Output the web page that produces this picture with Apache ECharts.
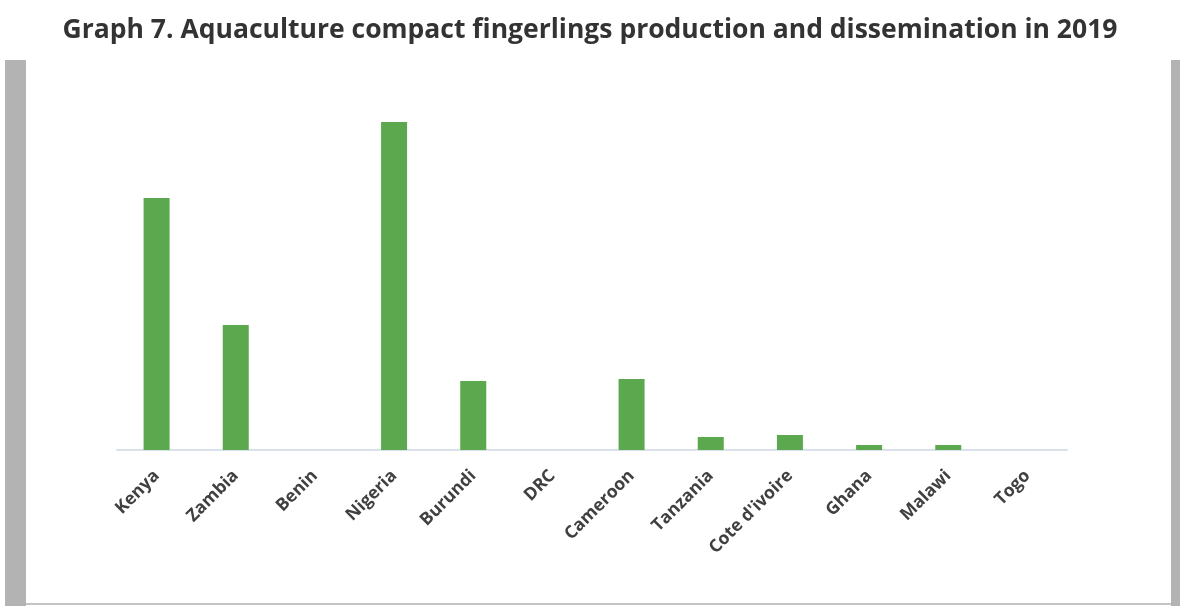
<!DOCTYPE html>
<html>
<head>
<meta charset="utf-8">
<script src="https://cdn.jsdelivr.net/npm/echarts@6/dist/echarts.min.js"></script>
<style>
  html, body { margin: 0; padding: 0; background: #fff; }
  #chart { width: 1180px; height: 606px; }
</style>
</head>
<body>
<div id="chart"></div>
<script>
// 数据
var countries = ['Kenya', 'Zambia', 'Benin', 'Nigeria', 'Burundi', 'DRC', 'Cameroon', 'Tanzania', "Cote d'ivoire", 'Ghana', 'Malawi', 'Togo'];
// (no value axis in the source)
var fingerlings = [252, 125, 0, 328, 69, 0, 71, 13, 15, 5, 5, 0];
var titleText = 'Graph 7. Aquaculture compact fingerlings production and dissemination in 2019';

(function () {
  var myChart = echarts.init(document.getElementById('chart'))
  var option = {
    animation: false,
    title: {
      text: titleText,
      left: 'center',
      top: 12,
      textStyle: {
        fontFamily: 'Open Sans',
        fontWeight: 'bold',
        fontSize: 26.5,
        color: '#333333'
      }
    },
    // 两侧灰色竖条和底边
    graphic: [
      { type: 'rect', shape: { x: 5, y: 60, width: 21, height: 546 }, style: { fill: '#b3b3b3' } },
      { type: 'rect', shape: { x: 1171, y: 60, width: 9, height: 546 }, style: { fill: '#b3b3b3' } },
      { type: 'rect', shape: { x: 26, y: 603, width: 1145, height: 2 }, style: { fill: '#c4c4c4' } }
    ],
    grid: {
      left: 117,
      right: 113,
      top: 100,
      bottom: 156
    },
    xAxis: {
      type: 'category',
      data: countries,
      axisTick: { show: false },
      axisLine: {
        lineStyle: { color: '#d9e2ea', width: 2 }
      },
      axisLabel: {
        rotate: 45,
        margin: 23,
        interval: 0,
        color: '#404040',
        fontFamily: 'Open Sans',
        fontWeight: 'bold',
        fontSize: 17.5
      }
    },
    yAxis: {
      type: 'value',
      min: 0,
      max: 350,
      show: false,
      splitLine: { show: false }
    },
    series: [{
      type: 'bar',
      data: fingerlings,
      barWidth: 26,
      itemStyle: { color: '#5ba84f' }
    }]
  }
  myChart.setOption(option)
})()
</script>
</body>
</html>
